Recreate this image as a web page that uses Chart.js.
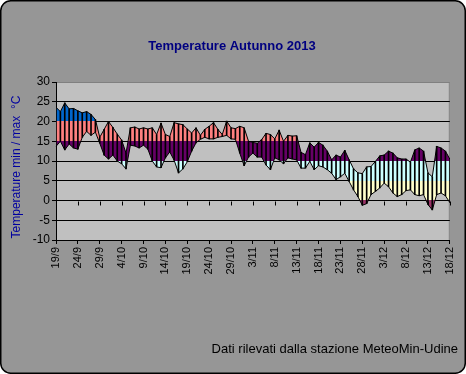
<!DOCTYPE html>
<html><head><meta charset="utf-8">
<script src="https://cdn.jsdelivr.net/npm/chart.js@4.4.1/dist/chart.umd.min.js"></script>
<style>html,body{margin:0;padding:0;background:#fff;overflow:hidden}canvas{display:block}</style>
</head><body>
<canvas id="c" width="466" height="374"></canvas>
<script>
const categories = [
'19/9','20/9','21/9','22/9','23/9','24/9','25/9','26/9','27/9','28/9','29/9','30/9',
'1/10','2/10','3/10','4/10','5/10','6/10','7/10','8/10','9/10','10/10','11/10','12/10','13/10','14/10','15/10','16/10','17/10','18/10','19/10','20/10','21/10','22/10','23/10','24/10','25/10','26/10','27/10','28/10','29/10','30/10','31/10',
'1/11','2/11','3/11','4/11','5/11','6/11','7/11','8/11','9/11','10/11','11/11','12/11','13/11','14/11','15/11','16/11','17/11','18/11','19/11','20/11','21/11','22/11','23/11','24/11','25/11','26/11','27/11','28/11','29/11','30/11',
'1/12','2/12','3/12','4/12','5/12','6/12','7/12','8/12','9/12','10/12','11/12','12/12','13/12','14/12','15/12','16/12','17/12','18/12'
];
const labelEvery = 5;
const maxTemps = [
23.6,22.5,24.7,23.2,23.3,22.7,22.2,22.5,21.8,20.5,
16.0,18.0,20.0,18.5,16.8,15.3,12.0,18.4,18.6,18.1,
18.4,18.1,18.4,16.7,19.6,16.7,16.2,19.7,19.4,19.2,
18.1,17.1,18.4,16.5,18.0,18.8,19.7,18.0,16.7,20.1,
18.4,18.2,18.8,18.4,15.0,14.7,14.5,15.4,17.0,16.7,
15.6,17.8,15.0,16.5,16.3,16.4,12.2,11.6,14.6,13.5,
14.7,14.0,12.5,10.3,11.5,11.0,12.7,10.3,8.0,7.0,
6.8,8.5,8.6,9.9,11.3,11.5,12.5,12.0,10.8,10.5,
10.5,9.7,12.8,13.3,12.5,7.0,6.0,13.7,13.3,12.5,
10.5
];
const minTemps = [
13.7,15.0,12.8,14.3,13.3,13.0,16.0,17.5,16.5,17.3,
14.5,11.5,10.5,11.5,10.0,9.3,8.0,14.0,13.8,13.3,
14.0,13.0,10.0,8.5,8.3,10.8,12.3,10.2,7.0,8.0,
9.8,12.5,14.6,15.5,16.0,15.6,15.6,16.0,16.2,16.5,
15.6,15.5,12.0,8.8,11.0,12.0,11.0,11.0,9.0,7.8,
10.8,10.3,9.3,10.8,10.5,10.3,8.2,8.2,9.9,7.8,
8.8,8.5,7.8,6.9,5.3,6.0,6.9,4.8,2.7,1.0,
-1.2,-0.8,1.5,2.3,3.2,4.4,3.5,1.9,1.0,1.5,
2.5,2.7,1.5,1.2,1.5,-1.0,-2.4,1.5,1.9,1.2,
-0.5
];
const yTicks = {min: -10, max: 30, step: 5};
const bandEdges = [20, 15, 10, 5, 0];
const bandColors = ['#0066CC', '#FF8080', '#660066', '#CCFFFF', '#FFFFCC', '#993366'];

function bandFill(context) {
  const chart = context.chart;
  const area = chart.chartArea;
  if (!area || !chart.scales.y) return bandColors[1];
  const y = chart.scales.y;
  const top = area.top, bottom = area.bottom;
  const g = chart.ctx.createLinearGradient(0, top, 0, bottom);
  let prev = 0;
  bandEdges.forEach((v, i) => {
    const off = Math.min(1, Math.max(0, (y.getPixelForValue(v) - top) / (bottom - top)));
    g.addColorStop(prev, bandColors[i]);
    g.addColorStop(off, bandColors[i]);
    prev = off;
  });
  g.addColorStop(prev, bandColors[bandColors.length - 1]);
  g.addColorStop(1, bandColors[bandColors.length - 1]);
  return g;
}

const FONT = '"Liberation Sans", Arial, sans-serif';

const decor = {
  id: 'decor',
  beforeDraw(chart) {
    const {ctx, chartArea: a, width, height} = chart;
    ctx.save();
    ctx.fillStyle = '#fff';
    ctx.fillRect(0, 0, width, height);
    const r = 10, x0 = 0.75, y0 = 0.75, x1 = width - 0.75, y1 = height - 0.75;
    ctx.beginPath();
    ctx.moveTo(x0 + r, y0);
    ctx.lineTo(x1 - r, y0); ctx.arcTo(x1, y0, x1, y0 + r, r);
    ctx.lineTo(x1, y1 - r); ctx.arcTo(x1, y1, x1 - r, y1, r);
    ctx.lineTo(x0 + r, y1); ctx.arcTo(x0, y1, x0, y1 - r, r);
    ctx.lineTo(x0, y0 + r); ctx.arcTo(x0, y0, x0 + r, y0, r);
    ctx.closePath();
    ctx.fillStyle = '#969696';
    ctx.fill();
    ctx.lineWidth = 1.5;
    ctx.strokeStyle = '#000';
    ctx.stroke();
    ctx.fillStyle = '#C0C0C0';
    ctx.fillRect(a.left, a.top, a.right - a.left, a.bottom - a.top);
    ctx.strokeStyle = '#808080';
    ctx.lineWidth = 1;
    ctx.strokeRect(a.left + 0.5, a.top + 0.5, a.right - a.left - 1, a.bottom - a.top);
    // title
    ctx.fillStyle = '#000080';
    ctx.font = 'bold 13px ' + FONT;
    ctx.textAlign = 'center';
    ctx.textBaseline = 'middle';
    ctx.fillText('Temperature Autunno 2013', 232, 46);
    // footer
    ctx.fillStyle = '#000';
    ctx.font = '13px ' + FONT;
    ctx.textAlign = 'right';
    ctx.fillText('Dati rilevati dalla stazione MeteoMin-Udine', 458, 349);
    // y title
    ctx.save();
    ctx.translate(17, 167);
    ctx.rotate(-Math.PI / 2);
    ctx.fillStyle = '#0000A0';
    ctx.font = '12px ' + FONT;
    ctx.textAlign = 'center';
    ctx.fillText('Temperature min / max  \u00B0C', 0, 0);
    ctx.restore();
    ctx.restore();
  },
  afterDraw(chart) {
    const {ctx} = chart;
    const xs = chart.scales.x, ys = chart.scales.y;
    const y0 = Math.round(ys.getPixelForValue(0)) + 0.5;
    ctx.save();
    ctx.strokeStyle = '#000';
    ctx.lineWidth = 1;
    ctx.beginPath();
    for (let i = 0; i < categories.length; i += labelEvery) {
      const x = Math.round(xs.getPixelForTick(i)) + 0.5;
      ctx.moveTo(x, y0);
      ctx.lineTo(x, y0 + 4);
    }
    ctx.stroke();
    ctx.restore();
  }
};

new Chart(document.getElementById('c'), {
  type: 'line',
  data: {
    labels: categories,
    datasets: [
      { type: 'bar', label: 'min-max', data: categories.map((_, i) => [minTemps[i], maxTemps[i]]),
        backgroundColor: '#000', borderWidth: 0, barThickness: 1, order: 0 },
      { type: 'line', label: 'max', data: maxTemps, borderColor: '#000', borderWidth: 1,
        pointRadius: 0, fill: '+1', backgroundColor: bandFill, tension: 0, order: 2 },
      { type: 'line', label: 'min', data: minTemps, borderColor: '#000', borderWidth: 1,
        pointRadius: 0, fill: false, tension: 0, order: 1 }
    ]
  },
  options: {
    responsive: false, animation: false, devicePixelRatio: 1,
    layout: { padding: { top: 82, right: 16, left: 0, bottom: 0 } },
    plugins: { legend: { display: false }, tooltip: { enabled: false }, title: { display: false } },
    scales: {
      x: {
        type: 'category', offset: false,
        grid: { offset: false, drawOnChartArea: false, drawTicks: true, tickLength: 4,
                color: '#000', tickColor: c => (c.index % labelEvery === 0 ? '#000' : 'rgba(0,0,0,0)') },
        border: { display: true, color: '#000' },
        ticks: { autoSkip: false, maxRotation: 90, minRotation: 90, padding: 3, color: '#000',
                 font: { family: FONT, size: 11 },
                 callback: (v, i) => (i % labelEvery === 0 ? categories[i] : '') },
        afterFit: s => { s.height = 134; }
      },
      y: {
        min: yTicks.min, max: yTicks.max, z: 1,
        grid: { color: c => (c.tick && c.tick.value === yTicks.max ? '#808080' : '#000'),
                tickColor: '#000', tickLength: 4, lineWidth: 1 },
        border: { color: '#000' },
        ticks: { stepSize: yTicks.step, padding: 2, color: '#000', font: { family: FONT, size: 12 } },
        afterFit: s => { s.width = 56; }
      }
    }
  },
  plugins: [decor]
});
</script>
</body></html>
